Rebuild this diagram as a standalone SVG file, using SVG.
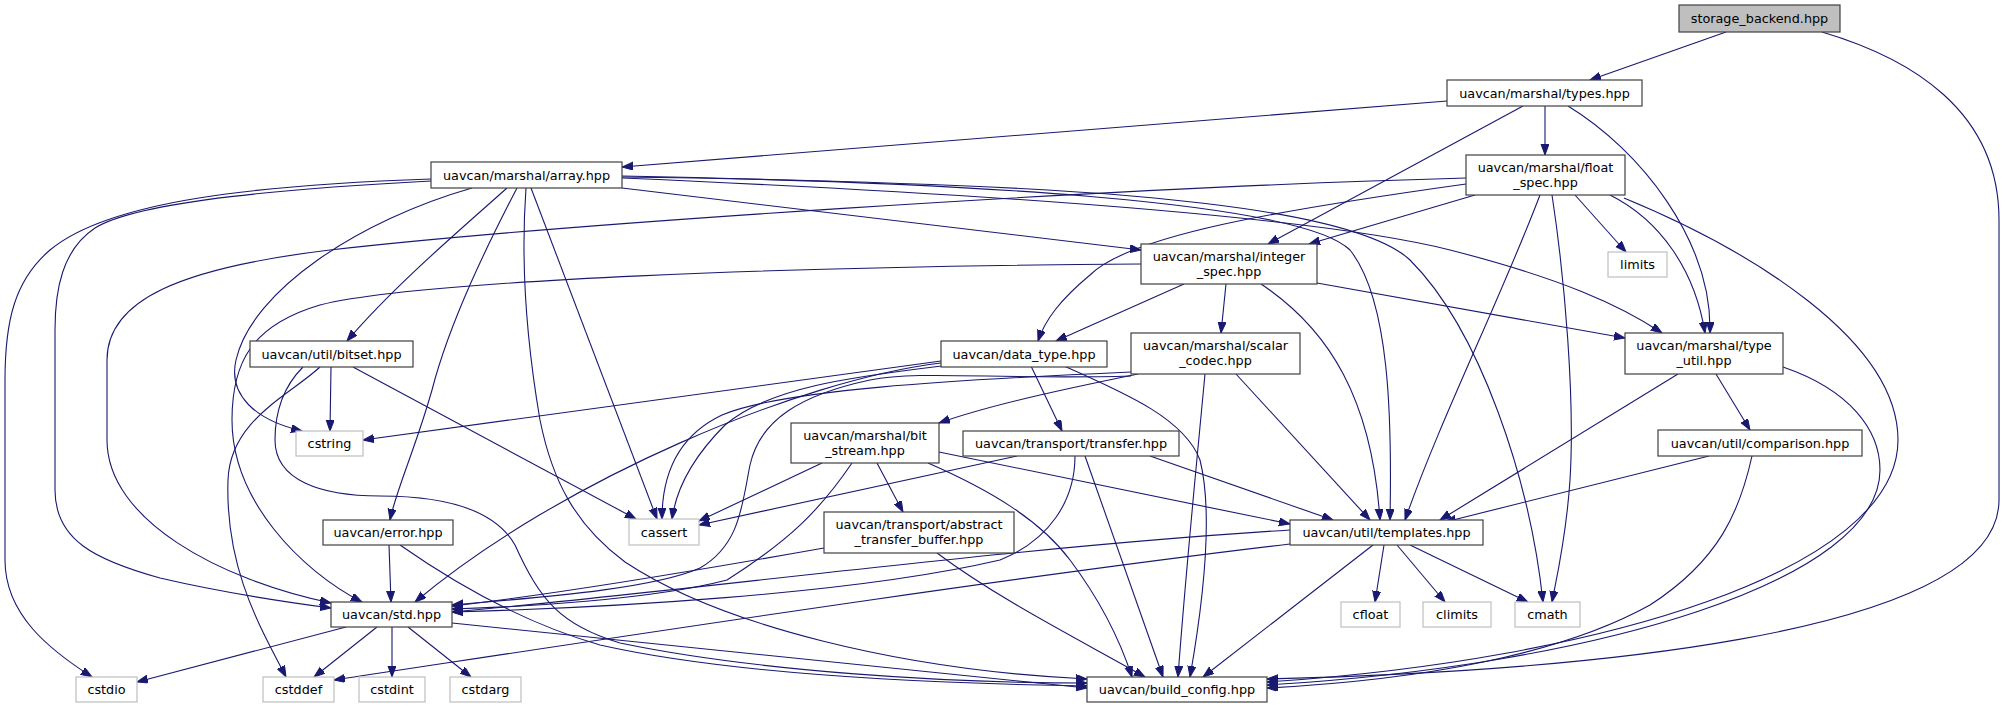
<svg xmlns="http://www.w3.org/2000/svg" width="2005" height="708" viewBox="0 0 2005 708">
<style>
text{font-family:"DejaVu Sans","Liberation Sans",sans-serif;font-size:12.8px;text-anchor:middle;fill:#000}
.n rect{fill:#fff;stroke:#404040;stroke-width:1.2}
.s rect{fill:#fff;stroke:#bfbfbf;stroke-width:1.2}
.r rect{fill:#bfbfbf;stroke:#404040;stroke-width:1.2}
#edges path{fill:none;stroke:#191970;stroke-width:1.1;marker-end:url(#a)}
</style>
<defs>
<marker id="a" markerWidth="12" markerHeight="9" refX="11" refY="4" orient="auto" markerUnits="userSpaceOnUse"><path d="M0,0 L11,4 L0,8 z" fill="#191970" stroke="#191970" stroke-width="1"/></marker>
</defs>
<rect width="2005" height="708" fill="#fff"/>
<g id="edges">
<path d="M1726,32 L1590,80"/>
<path d="M1822,32 C1910,58 1999,110 1999,220 L1999,500 C1999,640 1550,672 1267,679"/>
<path d="M1447,101 L622,167"/>
<path d="M1545,106 L1545,155"/>
<path d="M1523,106 L1268,244"/>
<path d="M1568,106 C1640,150 1712,240 1710,333"/>
<path d="M431,179 C260,185 110,200 50,250 C15,280 5,320 5,380 L5,560 C5,615 50,650 92,677"/>
<path d="M431,181 C300,188 140,200 95,228 C62,250 55,290 55,330 L55,490 C55,540 95,560 160,578 C220,592 270,600 331,608"/>
<path d="M472,188 C360,220 252,290 236,360 C228,395 255,420 302,431"/>
<path d="M507,188 C460,230 395,285 347,341"/>
<path d="M517,188 C490,240 450,320 432,390 C415,450 396,490 390,520"/>
<path d="M531,188 L657,519"/>
<path d="M526,188 C520,270 528,350 540,420 C552,480 575,525 625,562 C720,625 900,670 1087,679"/>
<path d="M622,188 L1141,250"/>
<path d="M622,178 C900,190 1300,212 1450,250 C1560,278 1620,305 1662,333"/>
<path d="M622,176 C950,182 1300,200 1350,250 C1390,300 1392,420 1390,520"/>
<path d="M622,177 C1000,182 1340,195 1410,260 C1480,330 1530,480 1543,602"/>
<path d="M1466,178 C1100,188 550,225 330,250 C180,268 107,300 107,360 L107,440 C107,520 220,580 331,603"/>
<path d="M1466,184 C1280,210 1130,235 1090,275 C1060,300 1045,320 1038,341"/>
<path d="M1475,195 L1309,244"/>
<path d="M1540,195 C1500,300 1440,420 1405,520"/>
<path d="M1552,195 C1565,280 1575,400 1570,480 C1566,540 1556,580 1552,602"/>
<path d="M1575,195 L1626,252"/>
<path d="M1610,195 C1660,220 1695,270 1705,333"/>
<path d="M1624,198 C1750,250 1898,340 1898,440 C1898,570 1600,660 1267,682"/>
<path d="M1141,264 C800,266 420,280 320,305 C252,325 232,362 232,420 C232,500 300,570 362,602"/>
<path d="M1184,284 L1056,341"/>
<path d="M1226,284 L1221,333"/>
<path d="M1261,284 C1330,330 1372,400 1380,520"/>
<path d="M1317,283 L1625,338"/>
<path d="M331,367 L330,431"/>
<path d="M320,367 C290,395 230,420 228,480 C225,570 262,630 286,677"/>
<path d="M353,367 L636,519"/>
<path d="M303,367 C285,385 275,410 275,440 C275,480 320,496 380,496 C445,496 495,510 515,545 C540,600 560,625 620,643 C760,672 950,683 1087,683"/>
<path d="M941,361 L363,440"/>
<path d="M941,366 C860,376 770,386 725,425 C690,460 676,490 672,519"/>
<path d="M941,363 C800,380 560,480 415,602"/>
<path d="M1031,366 L1062,431"/>
<path d="M1064,366 C1130,395 1185,420 1200,460 C1215,520 1200,620 1190,677"/>
<path d="M1131,372 C950,380 780,390 722,415 C680,435 662,470 662,519"/>
<path d="M1131,376 C1000,380 920,370 870,380 C800,395 760,420 750,465 C742,505 740,545 700,568 C650,590 530,598 452,605"/>
<path d="M1138,374 C1060,390 990,405 939,423"/>
<path d="M1205,374 C1195,480 1185,580 1178,677"/>
<path d="M1236,374 L1370,520"/>
<path d="M1678,374 L1440,520"/>
<path d="M1716,374 L1750,430"/>
<path d="M1783,367 C1850,390 1880,430 1880,470 C1880,580 1600,665 1267,685"/>
<path d="M822,463 L699,521"/>
<path d="M852,463 C820,510 790,540 727,580 C650,600 520,607 452,609"/>
<path d="M877,463 L903,512"/>
<path d="M939,452 L1290,524"/>
<path d="M928,463 C990,490 1040,520 1070,560 C1100,600 1120,640 1132,677"/>
<path d="M1017,456 L699,525"/>
<path d="M1150,456 L1333,520"/>
<path d="M1085,456 L1163,677"/>
<path d="M1075,456 C1075,500 1050,540 1000,560 C850,595 600,608 452,612"/>
<path d="M1709,456 L1445,522"/>
<path d="M1752,456 C1740,510 1720,560 1650,605 C1560,655 1420,680 1267,688"/>
<path d="M389,545 L391,602"/>
<path d="M400,545 C450,580 520,622 600,645 C720,672 900,683 1087,686"/>
<path d="M824,548 C700,570 550,595 452,606"/>
<path d="M937,553 C1000,600 1080,640 1145,677"/>
<path d="M1384,545 L1375,602"/>
<path d="M1397,545 L1445,602"/>
<path d="M1410,545 L1528,602"/>
<path d="M1373,545 L1203,677"/>
<path d="M1290,544 C1000,578 600,640 334,680"/>
<path d="M1290,530 C1000,548 700,590 452,612"/>
<path d="M346,627 L137,682"/>
<path d="M377,627 L314,677"/>
<path d="M392,627 L392,677"/>
<path d="M408,627 L471,677"/>
<path d="M452,623 L1087,688"/>
</g>
<g id="storage_backend" class="r"><rect x="1679" y="5" width="161" height="27"/><text x="1759.5" y="23">storage_backend.hpp</text></g>
<g id="types" class="n"><rect x="1447" y="80" width="195" height="26"/><text x="1544.5" y="97.5">uavcan/marshal/types.hpp</text></g>
<g id="array" class="n"><rect x="431" y="162" width="191" height="26"/><text x="526.5" y="179.5">uavcan/marshal/array.hpp</text></g>
<g id="float_spec" class="n"><rect x="1466" y="155" width="159" height="40"/><text x="1545.5" y="171.5">uavcan/marshal/float</text><text x="1545.5" y="186.5">_spec.hpp</text></g>
<g id="integer_spec" class="n"><rect x="1141" y="244" width="176" height="40"/><text x="1229" y="260.5">uavcan/marshal/integer</text><text x="1229" y="275.5">_spec.hpp</text></g>
<g id="limits" class="s"><rect x="1608" y="252" width="59" height="25"/><text x="1637.5" y="269">limits</text></g>
<g id="bitset" class="n"><rect x="250" y="341" width="163" height="26"/><text x="331.5" y="358.5">uavcan/util/bitset.hpp</text></g>
<g id="data_type" class="n"><rect x="941" y="341" width="166" height="26"/><text x="1024" y="358.5">uavcan/data_type.hpp</text></g>
<g id="scalar_codec" class="n"><rect x="1131" y="333" width="169" height="41"/><text x="1215.5" y="350">uavcan/marshal/scalar</text><text x="1215.5" y="365">_codec.hpp</text></g>
<g id="type_util" class="n"><rect x="1625" y="333" width="158" height="41"/><text x="1704" y="350">uavcan/marshal/type</text><text x="1704" y="365">_util.hpp</text></g>
<g id="cstring" class="s"><rect x="296" y="431" width="67" height="25"/><text x="329.5" y="448">cstring</text></g>
<g id="bit_stream" class="n"><rect x="791" y="423" width="148" height="40"/><text x="865" y="439.5">uavcan/marshal/bit</text><text x="865" y="454.5">_stream.hpp</text></g>
<g id="transfer" class="n"><rect x="963" y="431" width="216" height="25"/><text x="1071" y="448">uavcan/transport/transfer.hpp</text></g>
<g id="comparison" class="n"><rect x="1658" y="430" width="204" height="26"/><text x="1760" y="447.5">uavcan/util/comparison.hpp</text></g>
<g id="cassert" class="s"><rect x="629" y="519" width="70" height="26"/><text x="664" y="536.5">cassert</text></g>
<g id="error" class="n"><rect x="323" y="520" width="130" height="25"/><text x="388" y="537">uavcan/error.hpp</text></g>
<g id="abstract_transfer_buffer" class="n"><rect x="824" y="512" width="190" height="41"/><text x="919" y="529">uavcan/transport/abstract</text><text x="919" y="544">_transfer_buffer.hpp</text></g>
<g id="templates" class="n"><rect x="1290" y="520" width="193" height="25"/><text x="1386.5" y="537">uavcan/util/templates.hpp</text></g>
<g id="std" class="n"><rect x="331" y="602" width="121" height="25"/><text x="391.5" y="619">uavcan/std.hpp</text></g>
<g id="cfloat" class="s"><rect x="1341" y="602" width="59" height="25"/><text x="1370.5" y="619">cfloat</text></g>
<g id="climits" class="s"><rect x="1423" y="602" width="68" height="25"/><text x="1457" y="619">climits</text></g>
<g id="cmath" class="s"><rect x="1515" y="602" width="65" height="25"/><text x="1547.5" y="619">cmath</text></g>
<g id="cstdio" class="s"><rect x="76" y="677" width="61" height="25"/><text x="106.5" y="694">cstdio</text></g>
<g id="cstddef" class="s"><rect x="263" y="677" width="71" height="25"/><text x="298.5" y="694">cstddef</text></g>
<g id="cstdint" class="s"><rect x="359" y="677" width="66" height="25"/><text x="392" y="694">cstdint</text></g>
<g id="cstdarg" class="s"><rect x="450" y="677" width="71" height="25"/><text x="485.5" y="694">cstdarg</text></g>
<g id="build_config" class="n"><rect x="1087" y="677" width="180" height="25"/><text x="1177" y="694">uavcan/build_config.hpp</text></g>
</svg>
